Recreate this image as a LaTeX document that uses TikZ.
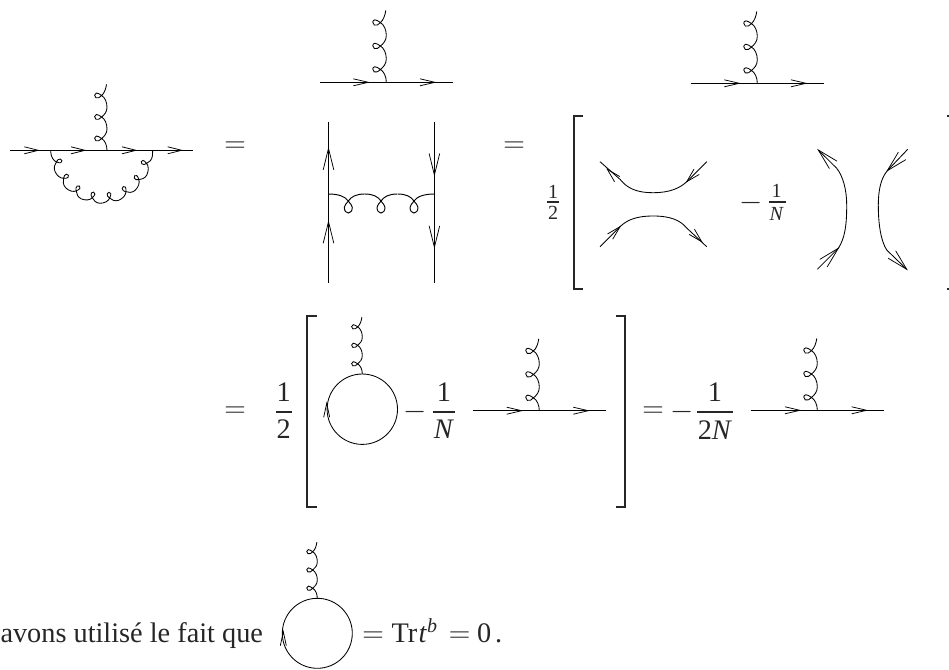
\documentclass[tikz,border=0pt]{standalone}
\usepackage{fontspec}
\setmainfont{Liberation Serif}
\tikzset{
  thinline/.style={line width=0.85pt,black},
  fermion/.style={line width=1pt,black},
  vline/.style={line width=1.25pt,black},
  chevron/.style={line width=0.75pt,black},
  bracketline/.style={line width=1.8pt,black!85,line cap=butt,line join=miter},
  fracbar/.style={black!85,line cap=butt},
  txt/.style={inner sep=0pt,outer sep=0pt,text=black!85},
  opnode/.style={txt,font=\fontsize{24.88}{26}\selectfont,scale=1.2,transform shape},
}
\newcommand{\chev}[5]{\draw[chevron,shift={(#1,#2)},rotate=#3] (-#4pt,-#5pt) -- (0pt,0pt) -- (-#4pt,#5pt);}
\newcommand{\gpiece}{%
  (0,0) .. controls (0,-5) and (-2,-10) .. (-5.7,-12)
  .. controls (-7.5,-13) and (-9,-14.5) .. (-10.5,-14.3)
  .. controls (-13,-14) and (-13,-10.5) .. (-11,-9.5)
  .. controls (-9,-8.7) and (-7,-10) .. (-5.7,-11.5)}
% gluon with three loops: foot at (#1,#2), scale #3
\newcommand{\gluonup}[3]{%
  \begin{scope}[shift={(#1,#2)},scale=#3]
    \draw[thinline] \gpiece .. controls (-2.5,-14) and (0,-17) .. (0,-21.5);
    \draw[thinline,shift={(0,-21.5)}] \gpiece .. controls (-2.5,-14) and (0,-17) .. (0,-21.5);
    \draw[thinline,shift={(0,-43)}] \gpiece .. controls (-2.5,-14) and (-1,-19) .. (-0.5,-23);
  \end{scope}}
% fermion line with gluon vertex: y, x start, x end, tip 1, tip 2, gluon foot, scale
\newcommand{\vertexdiag}[7]{%
  \draw[fermion] (#2,#1) -- (#3,#1);
  \chev{#4}{#1}{0}{15}{3.5}
  \chev{#5}{#1}{0}{15}{3.5}
  \gluonup{#6}{#1}{#7}}
\newcommand{\bigtxt}{\fontsize{28.3}{30}\selectfont}
\newcommand{\smalltxt}{\fontsize{20}{20}\selectfont}
\begin{document}
\begin{tikzpicture}[x=1pt,y=-1pt]
\useasboundingbox (0,0) rectangle (949,669);

% ---------- first diagram
\draw[fermion] (10,150.3) -- (193,150.3);
\foreach \t in {38.3,85,136,181.7}{\chev{\t}{150.3}{0}{14}{3.5}}
\gluonup{107}{150.3}{1}
\begin{scope}[shift={(101.7,150.3)},yscale=1.04]
  \draw[thinline] (180:51) arc[start angle=180,end angle=178,radius=51];
  \foreach \A in {178,156.5,135,113.5,92,70.5,49,27.5}{
    \draw[thinline] (\A:51) .. controls ({\A-5}:51) and ({\A-10}:49.4) .. ({\A-12}:46.4)
      .. controls ({\A-13}:45) and ({\A-14.5}:43.8) .. ({\A-14.3}:42.6)
      .. controls ({\A-14}:40.6) and ({\A-10.5}:40.6) .. ({\A-9.5}:42.2)
      .. controls ({\A-8.7}:43.8) and ({\A-10}:45.4) .. ({\A-11.5}:46.4)
      .. controls ({\A-14}:49) and ({\A-17}:51) .. ({\A-21.5}:51);
  }
  \draw[thinline] (6:51) .. controls (4:51) and (2:51) .. (0:51);
\end{scope}
\node[opnode] (eqa) at (235,147) {$=$};

% ---------- second column
\vertexdiag{82.3}{320}{452.7}{368.3}{435}{386.3}{1.09}
\draw[vline] (328.5,121.7) -- (328.5,283.3);
\draw[vline] (434.4,121.7) -- (434.4,283.3);
\chev{328.5}{148.3}{90}{21.5}{5.3}
\chev{328.5}{221.7}{90}{21.5}{5.3}
\chev{434.4}{175}{-90}{21.5}{5.3}
\chev{434.4}{247.3}{-90}{21.5}{5.3}
\foreach \c/\l/\r in {348.3/19.8/16.35,381/16.35/16.35,414/16.35/20.4}{
  \draw[thinline,line width=0.95pt,shift={(\c,194)}]
    (-\l,0) .. controls ({-\l*0.5},0) and (-3,2.5) .. (0,7)
    .. controls (2,10) and (4,11) .. (4,13.5)
    .. controls (4,17) and (2,19) .. (0,19)
    .. controls (-2,19) and (-4,17) .. (-4,13.5)
    .. controls (-4,11) and (-2,10) .. (0,7)
    .. controls (3,2.5) and ({\r*0.5},0) .. (\r,0);
}
\node[opnode] (eqb) at (514,146.7) {$=$};

% ---------- third column
\vertexdiag{83.3}{690.7}{824}{739.3}{806}{757.3}{1.09}
\draw[bracketline] (583.3,115.7) -- (574,115.7) -- (574,288.7) -- (583.3,288.7);
\node[txt,font=\smalltxt] (na) at (553,192) {1};
\node[txt,font=\smalltxt] (nb) at (553,213.3) {2};
\draw[fracbar,line width=2.2pt] (547,202.3) -- (559,202.3);
\draw[thinline] (600,161.7) -- (620,179.3) .. controls (627,188) and (636,192.7) .. (653.3,192.7)
  .. controls (670,192.7) and (680,188) .. (686.7,181.7) -- (706.7,161.7);
\draw[thinline] (600,246.7) -- (620,226.7) .. controls (627,220) and (636,216) .. (653.3,216)
  .. controls (670,216) and (680,220) .. (686.7,228) -- (706.7,246.7);
\chev{607.3}{169.3}{135}{14}{3.7}
\chev{686.7}{181.7}{225}{14}{3.7}
\chev{620}{226.7}{45}{14}{3.7}
\chev{701.7}{241.7}{-45}{14}{3.7}
\node[opnode] (ma) at (750.8,203) {$-$};
\node[txt,font=\smalltxt] (nc) at (776.7,191) {1};
\node[txt,font=\smalltxt] (nd) at (776.7,214) {\textit{N}};
\draw[fracbar,line width=2.2pt] (769.3,202.3) -- (786,202.3);
\draw[thinline] (817.3,269.3) -- (838.3,248.3) .. controls (845,238) and (846.7,225) .. (846.7,205)
  .. controls (846.7,190) and (843,176) .. (836.7,168.3) -- (818.3,150);
\draw[thinline] (906.7,269.3) -- (886.7,250) .. controls (881,241) and (878.3,225) .. (878.3,205)
  .. controls (878.3,190) and (881,178) .. (887.3,170.7) -- (907.7,149.3);
\chev{818.3}{150}{135}{21}{5.3}
\chev{838.3}{248.3}{45}{21}{5.3}
\chev{887.3}{170.7}{225}{21}{5.3}
\chev{906.7}{269.3}{-45}{21}{5.3}
\draw[bracketline] (946.7,115.7) -- (949,115.7);
\draw[bracketline] (946.7,288.7) -- (949,288.7);

% ---------- second row
\node[opnode] (eqc) at (235,411.7) {$=$};
\node[txt,font=\bigtxt] (ne) at (283.8,392) {1};
\node[txt,font=\bigtxt] (nf) at (283.8,429.5) {2};
\draw[fracbar,line width=1.7pt] (276,411.7) -- (291.7,411.7);
\draw[bracketline] (316.7,316) -- (307.3,316) -- (307.3,507.3) -- (316.7,507.3);
\node[draw,thinline,circle,minimum size=70.4pt,inner sep=0pt] (loopa) at (362.3,409.2) {};
\gluonup{362.3}{374}{0.86}
\chev{326.7}{403.3}{90}{14}{3}
\node[opnode] (mb) at (415,411.7) {$-$};
\node[txt,font=\bigtxt] (ng) at (444,392) {1};
\node[txt,font=\bigtxt] (nh) at (444,429.5) {\textit{N}};
\draw[fracbar,line width=1.7pt] (432.7,411.7) -- (455,411.7);
\vertexdiag{410.7}{472.7}{606}{521.7}{588.3}{539.3}{1.09}
\draw[bracketline] (616,316) -- (625,316) -- (625,507.3) -- (616,507.3);
\node[opnode] (eqd) at (653,411.7) {$=$};
\node[opnode] (mc) at (682.5,411.7) {$-$};
\node[txt,font=\bigtxt] (ni) at (715,392) {1};
\node[txt,font=\bigtxt] (nj) at (715,430) {2\textit{N}};
\draw[fracbar,line width=1.7pt] (697,411.7) -- (732.7,411.7);
\vertexdiag{410.3}{750.7}{884}{800}{866.7}{817.3}{1.09}

% ---------- bottom line
\node[txt,font=\bigtxt,anchor=base east] (phrase) at (263,642) {avons utilisé le fait que};
\node[draw,thinline,circle,minimum size=70pt,inner sep=0pt] (loopb) at (317.3,633.3) {};
\gluonup{317.3}{598.3}{0.85}
\chev{283.3}{631.7}{90}{14}{3}
\node[opnode] (eqe) at (373,637.5) {$=$};
\node[txt,font=\bigtxt,anchor=base west] (tr) at (391.5,642) {Tr\hspace{1.5pt}\textit{t}\raisebox{10pt}{\fontsize{20}{20}\selectfont\textit{b}}};
\node[opnode] (eqf) at (459.5,637.5) {$=$};
\node[txt,font=\bigtxt,anchor=base west] (zero) at (477,642) {0\hspace{4pt}.};
\end{tikzpicture}
\end{document}
